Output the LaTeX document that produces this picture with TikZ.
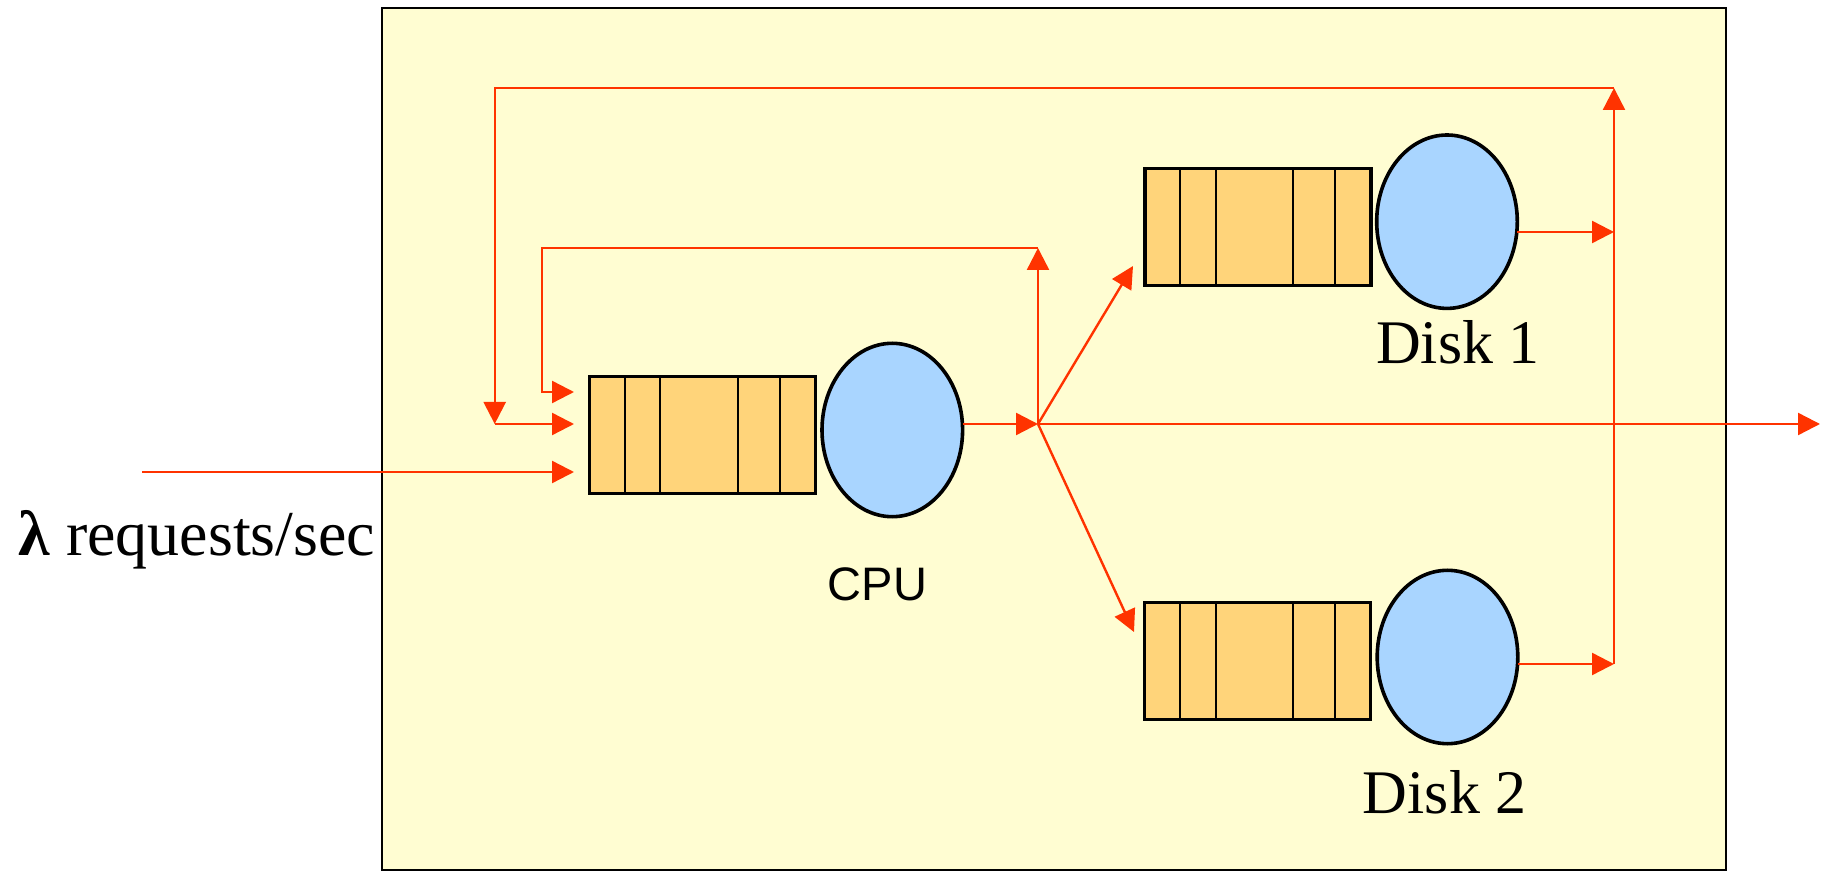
\documentclass[tikz,border=0pt]{standalone}
\usepackage{fontspec}
\setmainfont{Liberation Serif}
\newfontfamily\arialf{Liberation Sans}
\usetikzlibrary{arrows.meta,shapes.geometric}
\definecolor{framebg}{HTML}{FFFDD2}
\definecolor{qfill}{HTML}{FFD47A}
\definecolor{sfill}{HTML}{A9D5FF}
\definecolor{flow}{HTML}{FF3300}
\begin{document}
\begin{tikzpicture}[x=0.5pt,y=-0.5pt,
 queue/.style={draw=black,line width=1.6pt,fill=qfill,minimum width=113pt,minimum height=58.5pt,inner sep=0pt,outer sep=0pt},
 server/.style={ellipse,draw=black,line width=1.8pt,fill=sfill,minimum width=70.3pt,minimum height=86.7pt,inner sep=0pt,outer sep=0pt},
 flowline/.style={draw=flow,line width=1.2pt},
 arr/.style={flowline,-{Triangle[length=11pt,width=11pt]}},
 frame/.style={draw=black,line width=1.1pt,fill=framebg},
 divider/.style={draw=black,line width=1pt},
 disklbl/.style={inner sep=0pt,anchor=base,font=\fontsize{31}{36}\selectfont}]

\useasboundingbox (0,0) rectangle (1832,871);
\draw[frame] (382,8) rectangle (1726,870);

% queues
\node[queue] (cpuq) at (702.5,434.7) {};
\node[queue] (d1q) at (1258,227) {};
\node[queue] (d2q) at (1257.7,661.3) {};
\foreach \q in {cpuq,d1q,d2q}{
  \foreach \o in {17.65,35.4,74,95.2}{
    \draw[divider] ([xshift=\o pt]\q.north west) -- ([xshift=\o pt]\q.south west);
  }
}

% servers
\node[server] (cpus) at (892.3,430) {};
\node[server] (d1s) at (1447,221.7) {};
\node[server] (d2s) at (1447.5,657) {};

% coordinates
\coordinate (br) at (1038,424);
\coordinate (fbA) at (1038,248);
\coordinate (fbB) at (542,248);
\coordinate (fbC) at (542,392);
\coordinate (inA) at (574,392);
\coordinate (inB) at (574,424);
\coordinate (inC) at (574,472);
\coordinate (src) at (142,472);
\coordinate (d1in) at (1133,266);
\coordinate (d2in) at (1134,632);
\coordinate (sink) at (1820,424);
\coordinate (rj1) at (1614,232);
\coordinate (rj2) at (1614,664);
\coordinate (rtop) at (1614,88);
\coordinate (ltop) at (494.7,88);
\coordinate (lbot) at (494.7,424);

% connectors
\draw[arr] (cpus.east |- br) -- (br);
\draw[arr] (br) -- (fbA);
\draw[arr] (fbA) -- (fbB) -- (fbC) -- (inA);
\draw[arr] (br) -- (d1in);
\draw[arr] (br) -- (d2in);
\draw[arr] (br) -- (sink);
\draw[arr] (d1s.east |- rj1) -- (rj1);
\draw[arr] (d2s.east |- rj2) -- (rj2);
\draw[arr] (rj2) -- (rtop);
\draw[arr] (rtop) -- (ltop) -- (lbot);
\draw[arr] (lbot) -- (inB);
\draw[arr] (src) -- (inC);

% labels
\node[disklbl] (d1l) at (1458,364) {Disk 1};
\node[disklbl] (d2l) at (1444.7,813) {Disk 2};
\node[inner sep=0pt,anchor=base,font=\arialf\fontsize{23.5}{28}\selectfont] (cpul) at (877.5,601) {CPU};
\node[inner sep=0pt,anchor=base west,font=\fontsize{32}{38}\selectfont] (lam) at (18,555) {\textbf{λ} requests/sec};
\end{tikzpicture}
\end{document}
